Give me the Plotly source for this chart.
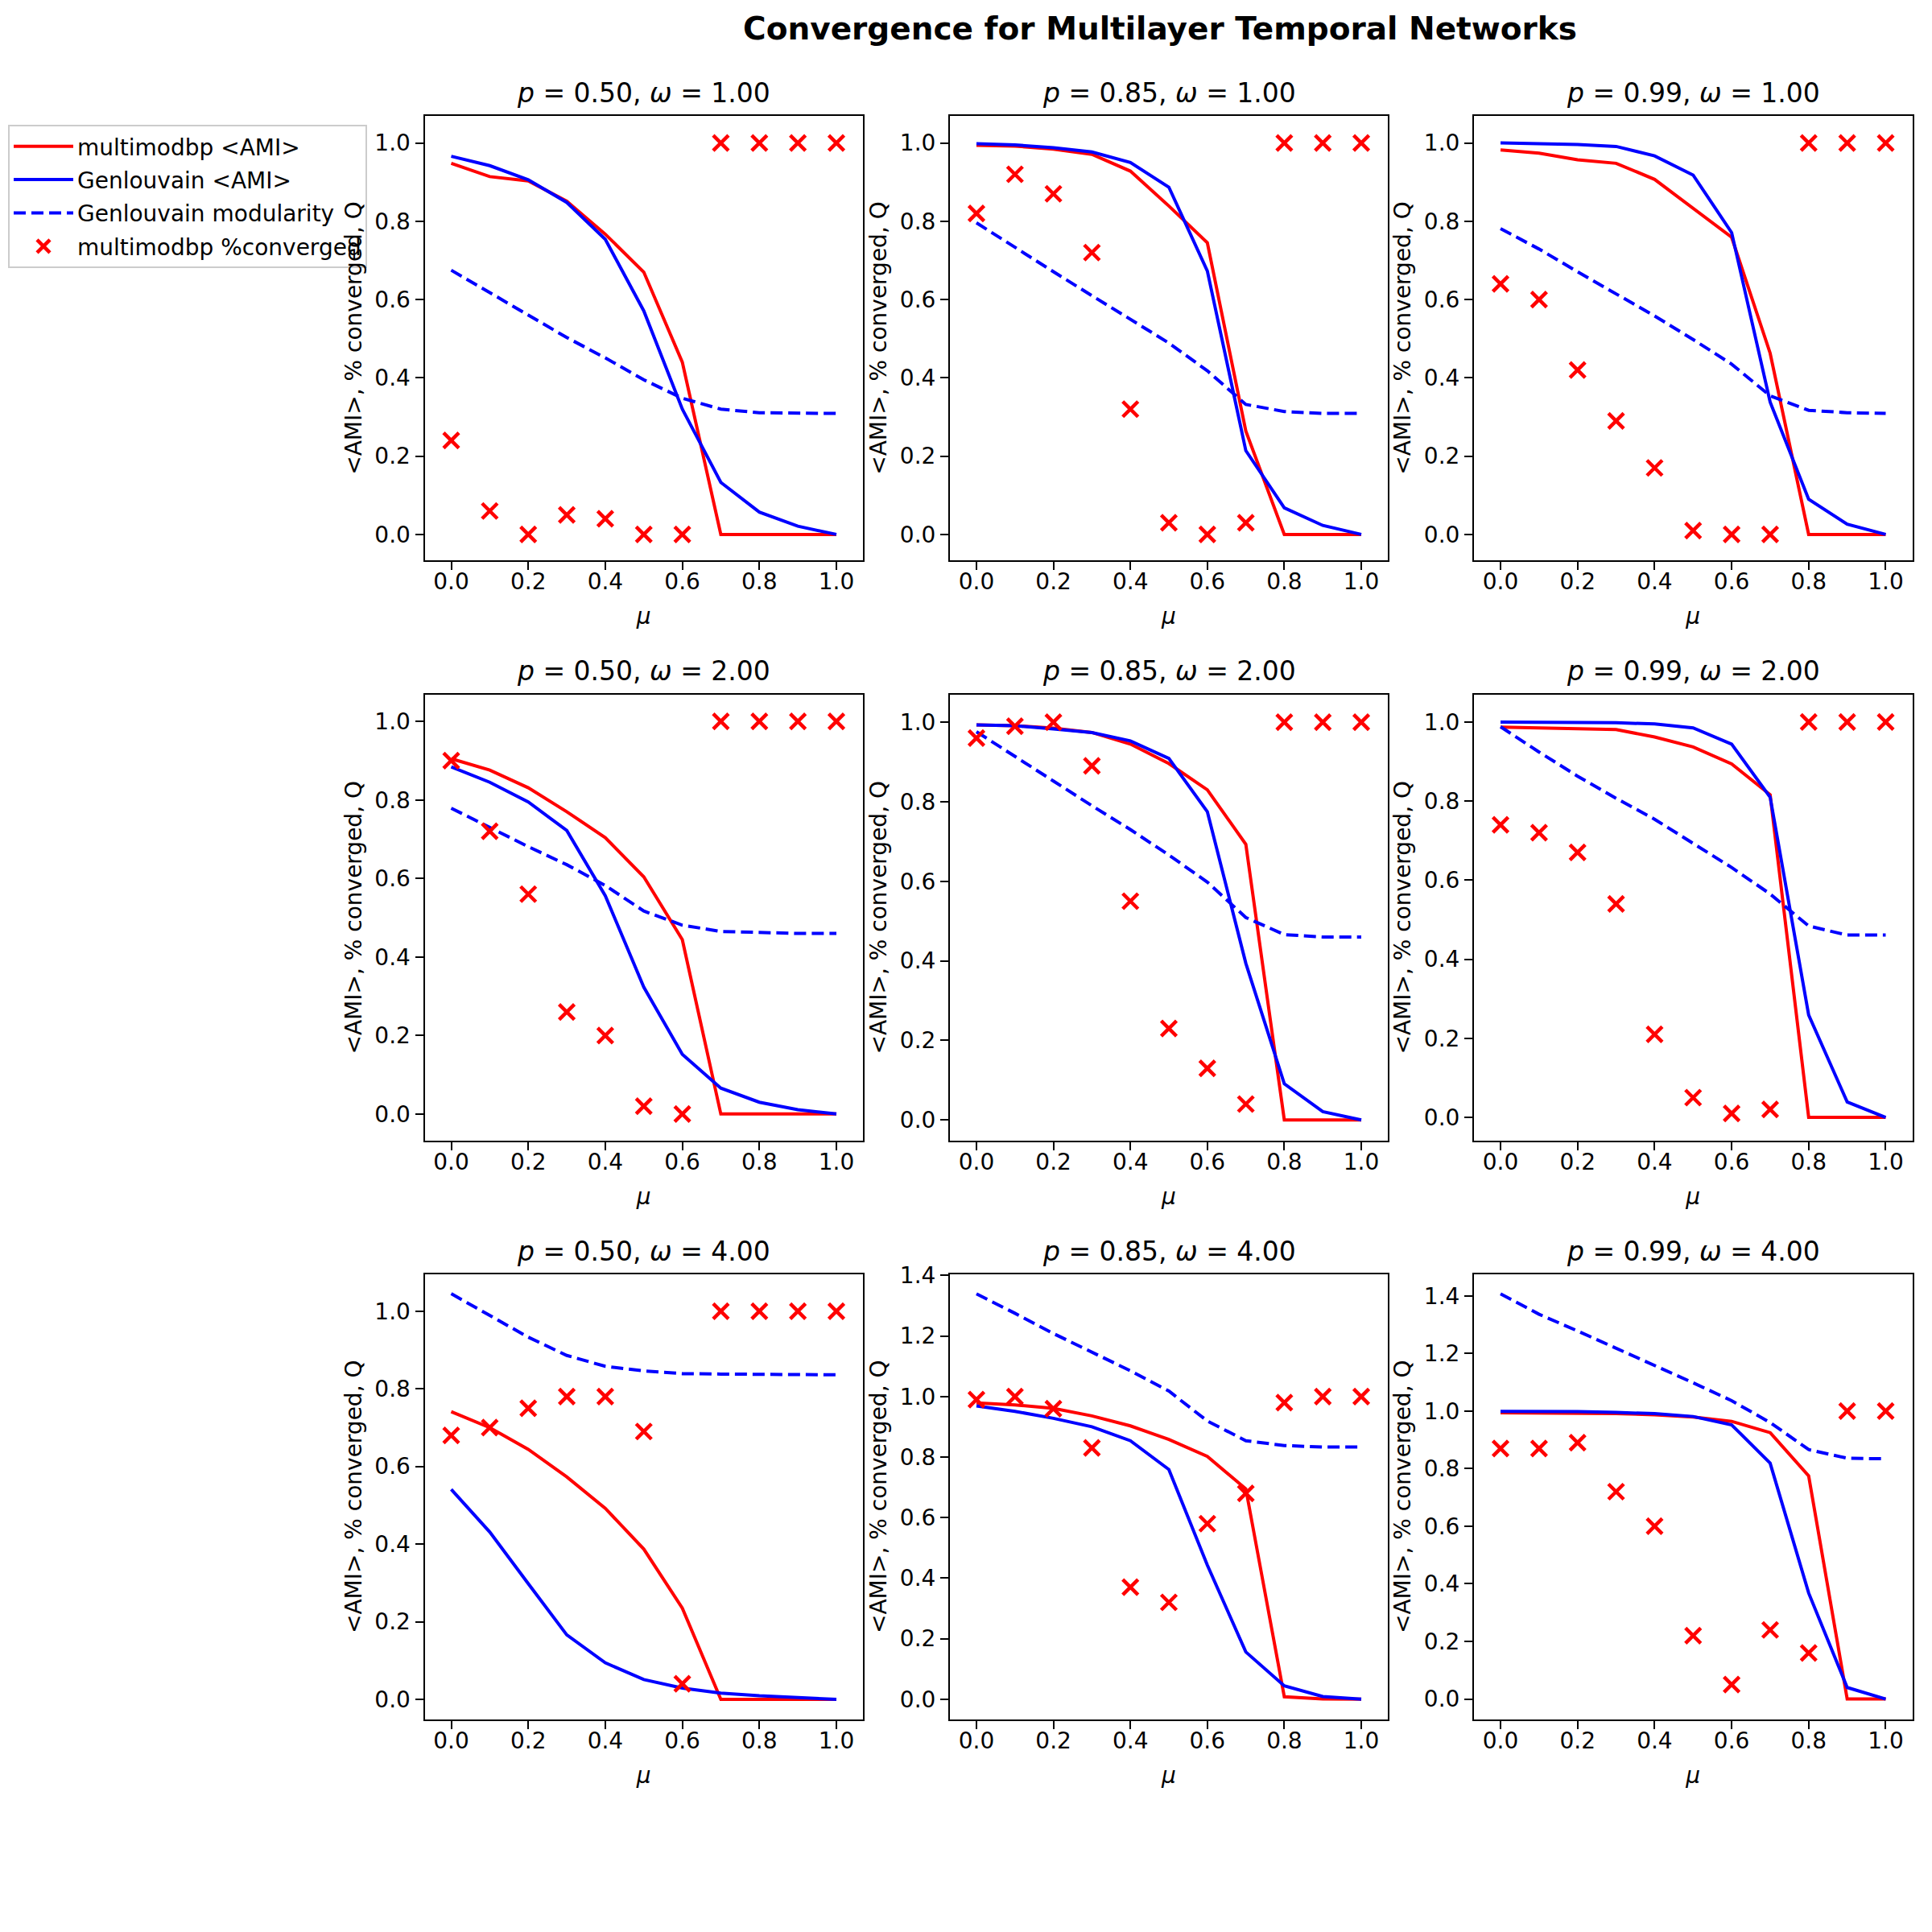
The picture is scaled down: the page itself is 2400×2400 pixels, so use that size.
import plotly.graph_objects as go
from plotly.subplots import make_subplots

# mixing parameter on the x axis
MU = [0.0, 0.1, 0.2, 0.3, 0.4, 0.5, 0.6, 0.7, 0.8, 0.9, 1.0]
P_VALUES = [0.50, 0.85, 0.99]
OMEGA_VALUES = [1.00, 2.00, 4.00]

# omega = 1
bp_ami_050_w1 = [0.948, 0.914, 0.903, 0.851, 0.767, 0.670, 0.440, 0.0, 0.0, 0.0, 0.0]
gl_ami_050_w1 = [0.966, 0.942, 0.906, 0.848, 0.754, 0.571, 0.320, 0.133, 0.057, 0.021, 0.0]
gl_mod_050_w1 = [0.675, 0.618, 0.560, 0.503, 0.451, 0.395, 0.348, 0.320, 0.311, 0.309, 0.309]
bp_conv_050_w1 = [0.24, 0.06, 0.0, 0.05, 0.04, 0.0, 0.0, 1.0, 1.0, 1.0, 1.0]

bp_ami_085_w1 = [0.994, 0.992, 0.984, 0.971, 0.928, 0.839, 0.745, 0.264, 0.0, 0.0, 0.0]
gl_ami_085_w1 = [0.998, 0.995, 0.988, 0.977, 0.950, 0.887, 0.673, 0.214, 0.068, 0.023, 0.0]
gl_mod_085_w1 = [0.796, 0.733, 0.671, 0.610, 0.549, 0.489, 0.418, 0.332, 0.314, 0.309, 0.309]
bp_conv_085_w1 = [0.82, 0.92, 0.87, 0.72, 0.32, 0.03, 0.0, 0.03, 1.0, 1.0, 1.0]

bp_ami_099_w1 = [0.982, 0.974, 0.957, 0.948, 0.907, 0.832, 0.759, 0.463, 0.0, 0.0, 0.0]
gl_ami_099_w1 = [1.0, 0.999, 0.996, 0.991, 0.967, 0.918, 0.771, 0.338, 0.090, 0.026, 0.0]
gl_mod_099_w1 = [0.781, 0.729, 0.671, 0.615, 0.558, 0.498, 0.435, 0.354, 0.317, 0.311, 0.309]
bp_conv_099_w1 = [0.64, 0.60, 0.42, 0.29, 0.17, 0.01, 0.0, 0.0, 1.0, 1.0, 1.0]

# omega = 2
bp_ami_050_w2 = [0.905, 0.876, 0.831, 0.770, 0.704, 0.604, 0.444, 0.0, 0.0, 0.0, 0.0]
gl_ami_050_w2 = [0.884, 0.845, 0.795, 0.722, 0.556, 0.323, 0.152, 0.066, 0.030, 0.011, 0.0]
gl_mod_050_w2 = [0.779, 0.729, 0.681, 0.635, 0.582, 0.517, 0.481, 0.465, 0.462, 0.460, 0.460]
bp_conv_050_w2 = [0.90, 0.72, 0.56, 0.26, 0.20, 0.02, 0.0, 1.0, 1.0, 1.0, 1.0]

bp_ami_085_w2 = [0.993, 0.991, 0.985, 0.974, 0.945, 0.896, 0.830, 0.693, 0.0, 0.0, 0.0]
gl_ami_085_w2 = [0.993, 0.991, 0.983, 0.974, 0.953, 0.909, 0.775, 0.394, 0.091, 0.021, 0.0]
gl_mod_085_w2 = [0.976, 0.915, 0.852, 0.790, 0.730, 0.666, 0.598, 0.509, 0.466, 0.460, 0.460]
bp_conv_085_w2 = [0.96, 0.99, 1.0, 0.89, 0.55, 0.23, 0.13, 0.04, 1.0, 1.0, 1.0]

bp_ami_099_w2 = [0.987, 0.985, 0.984, 0.981, 0.962, 0.937, 0.894, 0.816, 0.0, 0.0, 0.0]
gl_ami_099_w2 = [1.0, 1.0, 0.999, 0.998, 0.995, 0.985, 0.944, 0.810, 0.259, 0.039, 0.0]
gl_mod_099_w2 = [0.988, 0.924, 0.863, 0.807, 0.754, 0.694, 0.632, 0.565, 0.484, 0.461, 0.461]
bp_conv_099_w2 = [0.74, 0.72, 0.67, 0.54, 0.21, 0.05, 0.01, 0.02, 1.0, 1.0, 1.0]

# omega = 4
bp_ami_050_w4 = [0.741, 0.700, 0.644, 0.573, 0.492, 0.387, 0.235, 0.0, 0.0, 0.0, 0.0]
gl_ami_050_w4 = [0.541, 0.431, 0.298, 0.166, 0.094, 0.051, 0.029, 0.016, 0.009, 0.004, 0.0]
gl_mod_050_w4 = [1.045, 0.988, 0.933, 0.886, 0.858, 0.846, 0.839, 0.838, 0.837, 0.835, 0.836]
bp_conv_050_w4 = [0.68, 0.70, 0.75, 0.78, 0.78, 0.69, 0.04, 1.0, 1.0, 1.0, 1.0]

bp_ami_085_w4 = [0.979, 0.972, 0.961, 0.936, 0.903, 0.858, 0.802, 0.695, 0.008, 0.001, 0.0]
gl_ami_085_w4 = [0.969, 0.951, 0.928, 0.900, 0.854, 0.759, 0.443, 0.156, 0.044, 0.009, 0.0]
gl_mod_085_w4 = [1.339, 1.275, 1.208, 1.146, 1.085, 1.018, 0.919, 0.854, 0.838, 0.833, 0.833]
bp_conv_085_w4 = [0.99, 1.0, 0.96, 0.83, 0.37, 0.32, 0.58, 0.68, 0.98, 1.0, 1.0]

bp_ami_099_w4 = [0.994, 0.993, 0.994, 0.991, 0.987, 0.979, 0.964, 0.925, 0.775, 0.0, 0.0]
gl_ami_099_w4 = [0.999, 0.999, 0.998, 0.995, 0.991, 0.981, 0.952, 0.819, 0.368, 0.040, 0.0]
gl_mod_099_w4 = [1.407, 1.336, 1.278, 1.219, 1.160, 1.098, 1.036, 0.960, 0.866, 0.836, 0.834]
bp_conv_099_w4 = [0.87, 0.87, 0.89, 0.72, 0.60, 0.22, 0.05, 0.24, 0.16, 1.0, 1.0]

# (row, col) -> the four series of that panel
panels = {
    (0, 0): (bp_ami_050_w1, gl_ami_050_w1, gl_mod_050_w1, bp_conv_050_w1),
    (0, 1): (bp_ami_085_w1, gl_ami_085_w1, gl_mod_085_w1, bp_conv_085_w1),
    (0, 2): (bp_ami_099_w1, gl_ami_099_w1, gl_mod_099_w1, bp_conv_099_w1),
    (1, 0): (bp_ami_050_w2, gl_ami_050_w2, gl_mod_050_w2, bp_conv_050_w2),
    (1, 1): (bp_ami_085_w2, gl_ami_085_w2, gl_mod_085_w2, bp_conv_085_w2),
    (1, 2): (bp_ami_099_w2, gl_ami_099_w2, gl_mod_099_w2, bp_conv_099_w2),
    (2, 0): (bp_ami_050_w4, gl_ami_050_w4, gl_mod_050_w4, bp_conv_050_w4),
    (2, 1): (bp_ami_085_w4, gl_ami_085_w4, gl_mod_085_w4, bp_conv_085_w4),
    (2, 2): (bp_ami_099_w4, gl_ami_099_w4, gl_mod_099_w4, bp_conv_099_w4),
}

# layout in screen pixels of the 2400x2400 page; the page body adds 8px
W = H = 2400
OFF = 8
col_px = [(527.5, 1072), (1180, 1724), (1831, 2375.5)]
row_px = [(144, 696), (862.5, 1417), (1582.5, 2136)]
y_ranges = [
    [[-0.066, 1.069], [-0.066, 1.069], [-0.066, 1.069]],
    [[-0.068, 1.069], [-0.052, 1.070], [-0.059, 1.070]],
    [[-0.052, 1.096], [-0.067, 1.405], [-0.071, 1.476]],
]
x_range = [-0.069, 1.069]

FONT = "DejaVu Sans"
dash = "15px,7px"


def px_x(v):
    return (v - OFF) / W


def px_y(v):
    return 1 - (v - OFF) / H


fig = make_subplots(rows=3, cols=3)

for (r, c), (bp_ami, gl_ami, gl_mod, bp_conv) in panels.items():
    first = (r == 0 and c == 0)
    fig.add_trace(go.Scatter(
        x=MU, y=bp_ami, mode='lines', name='multimodbp <AMI>',
        line=dict(color='red', width=4), showlegend=first, legendgroup='a'
    ), row=r + 1, col=c + 1)
    fig.add_trace(go.Scatter(
        x=MU, y=gl_ami, mode='lines', name='Genlouvain <AMI>',
        line=dict(color='blue', width=4), showlegend=first, legendgroup='b'
    ), row=r + 1, col=c + 1)
    fig.add_trace(go.Scatter(
        x=MU, y=gl_mod, mode='lines', name='Genlouvain modularity',
        line=dict(color='blue', width=4, dash=dash), showlegend=first, legendgroup='c'
    ), row=r + 1, col=c + 1)
    fig.add_trace(go.Scatter(
        x=MU, y=bp_conv, mode='markers', name='multimodbp %converged',
        marker=dict(symbol='x-thin', size=19, line=dict(color='red', width=4.5), color='red'),
        showlegend=first, legendgroup='d'
    ), row=r + 1, col=c + 1)

annotations = []
for r in range(3):
    for c in range(3):
        x0, x1 = col_px[c]
        y0, y1 = row_px[r]
        xd = [px_x(x0), px_x(x1)]
        yd = [px_y(y1), px_y(y0)]
        fig.update_xaxes(
            domain=xd, range=x_range, dtick=0.2, tick0=0, tickformat='.1f',
            showline=True, linecolor='black', linewidth=2, mirror=True,
            ticks='outside', ticklen=10, tickwidth=2, tickcolor='black',
            showgrid=False, zeroline=False, automargin=False,
            ticklabelstandoff=-10,
            tickfont=dict(family=FONT, size=28, color='black'),
            title=dict(text='<i>μ</i>', font=dict(family=FONT, size=28, color='black'), standoff=18),
            row=r + 1, col=c + 1
        )
        fig.update_yaxes(
            domain=yd, range=y_ranges[r][c], dtick=0.2, tick0=0, tickformat='.1f',
            showline=True, linecolor='black', linewidth=2, mirror=True,
            ticks='outside', ticklen=10, tickwidth=2, tickcolor='black',
            showgrid=False, zeroline=False, automargin=False,
            tickfont=dict(family=FONT, size=28, color='black'),
            title=dict(text='<AMI>, % converged, Q', font=dict(family=FONT, size=28, color='black'), standoff=8),
            row=r + 1, col=c + 1
        )
        annotations.append(dict(
            x=(xd[0] + xd[1]) / 2, y=yd[1], xref='paper', yref='paper',
            xanchor='center', yanchor='bottom', yshift=7, showarrow=False,
            text=f'<i>p</i> = {P_VALUES[c]:.2f}, <i>ω</i> = {OMEGA_VALUES[r]:.2f}',
            font=dict(family=FONT, size=33, color='black')
        ))

fig.update_layout(
    width=W, height=H,
    margin=dict(l=0, r=0, t=0, b=0, autoexpand=False),
    plot_bgcolor='white', paper_bgcolor='white',
    font=dict(family=FONT, size=28, color='black'),
    title=dict(
        text='Convergence for Multilayer Temporal Networks',
        x=px_x(1441), xanchor='center', y=px_y(35), yanchor='middle',
        font=dict(family=FONT, size=39, color='black', weight='bold')
    ),
    legend=dict(
        x=px_x(10), y=px_y(155), xanchor='left', yanchor='top',
        bgcolor='rgba(255,255,255,0.8)', bordercolor='#cccccc', borderwidth=2,
        font=dict(family=FONT, size=28, color='black'),
        tracegroupgap=2, itemwidth=74
    ),
    annotations=annotations,
)

fig.write_html("out.html")
